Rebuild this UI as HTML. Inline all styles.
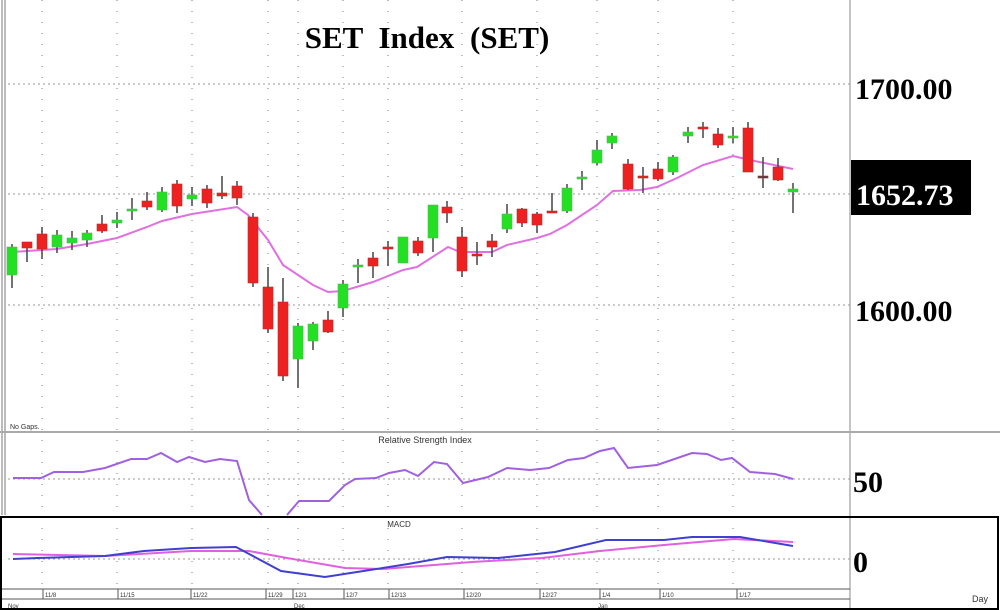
<!DOCTYPE html>
<html><head><meta charset="utf-8"><style>
html,body{margin:0;padding:0;background:#fff;width:1000px;height:610px;overflow:hidden}
svg{display:block}
</style></head><body>
<svg id="s" width="1000" height="610" xmlns="http://www.w3.org/2000/svg" font-family="Liberation Sans, sans-serif">
<rect width="1000" height="610" fill="#fff"/>
<line x1="2" y1="0" x2="2" y2="515" stroke="#777" stroke-width="1"/>
<line x1="5" y1="0" x2="5" y2="515" stroke="#777" stroke-width="1"/>
<line x1="850" y1="0" x2="850" y2="610" stroke="#888" stroke-width="1"/>
<g stroke="#999" stroke-dasharray="2,3" stroke-width="1">
<line x1="8" y1="84" x2="850" y2="84"/>
<line x1="8" y1="194" x2="850" y2="194"/>
<line x1="8" y1="305" x2="850" y2="305"/>
<line x1="8" y1="479" x2="850" y2="479"/>
<line x1="8" y1="559" x2="850" y2="559"/>
</g>
<g id="vgrid" stroke="#aaa" stroke-dasharray="1,10" stroke-width="1.5"></g>
<text x="427" y="48" text-anchor="middle" font-family="Liberation Serif, serif" font-weight="bold" font-size="31" word-spacing="8">SET Index (SET)</text>
<text x="855" y="99" font-family="Liberation Serif, serif" font-weight="bold" font-size="30">1700.00</text>
<text x="855" y="321" font-family="Liberation Serif, serif" font-weight="bold" font-size="30">1600.00</text>
<rect x="851" y="160" width="120" height="55" fill="#000"/>
<text x="856" y="205" fill="#fff" font-family="Liberation Serif, serif" font-weight="bold" font-size="30">1652.73</text>
<text x="10" y="429" font-size="7" fill="#333">No Gaps.</text>
<line x1="0" y1="432" x2="1000" y2="432" stroke="#aaa" stroke-width="2"/>
<text x="425" y="443" text-anchor="middle" font-size="9" fill="#333">Relative  Strength  Index</text>
<text x="853" y="492" font-family="Liberation Serif, serif" font-weight="bold" font-size="30">50</text>
<rect x="1" y="517" width="997" height="92" fill="none" stroke="#000" stroke-width="2"/>
<text x="399" y="527" text-anchor="middle" font-size="8" fill="#333">MACD</text>
<text x="853" y="572" font-family="Liberation Serif, serif" font-weight="bold" font-size="30">0</text>
<line x1="2" y1="589" x2="850" y2="589" stroke="#555" stroke-width="1"/>
<line x1="2" y1="599" x2="850" y2="599" stroke="#555" stroke-width="1"/>
<text x="972" y="602" font-size="9" fill="#333">Day</text>
<text x="8" y="608" font-size="6" fill="#333">Nov</text>
<text x="294" y="608" font-size="6" fill="#333">Dec</text>
<text x="598" y="608" font-size="6" fill="#333">Jan</text>
<g id="dates" font-size="6" fill="#333"></g>
<polyline fill="none" stroke="#e070e0" stroke-width="2" points="12,252 27,251 57,249 87,244 117,238 147,227 162,221 192,214 237,207 248,215 268,240 283,265 313,285 328,292 343,291 373,282 403,270 417,267 448,247 460,252 492,252 507,245 537,238 550,234 567,225 597,205 613,191 640,190 657,187 677,178 703,165 733,156 750,160 793,169"/>
<g id="candles"></g>
<polyline fill="none" stroke="#a060e0" stroke-width="2" points="13,478 41,478 54,472 83,472 105,468 131,459 147,459 161,453 177,462 189,457 205,462 220,459 237,461 249,500 262,515"/>
<polyline fill="none" stroke="#a060e0" stroke-width="2" points="287,515 299,501 329,501 345,485 355,479 376,478 389,473 405,470 418,476 434,462 447,464 463,483 488,477 507,468 530,470 549,468 568,460 584,458 600,451 614,448 628,468 657,465 692,453 707,454 721,460 732,458 750,472 775,474 793,479"/>
<polyline fill="none" stroke="#e060e0" stroke-width="2" points="13,554 105,556 191,551 249,551 287,558 345,568 383,569 472,562 542,558 600,551 664,545 734,539 793,542"/>
<polyline fill="none" stroke="#4040d0" stroke-width="2" points="13,559 38,558 105,556 144,551 191,548 236,547 281,571 325,577 357,572 408,564 447,557 498,558 555,552 606,540 664,540 692,537 740,537 793,546"/>
</svg>
<script>
var NS="http://www.w3.org/2000/svg";
function el(n,a,p){var e=document.createElementNS(NS,n);for(var k in a)e.setAttribute(k,a[k]);p.appendChild(e);return e;}
var C=[[12,247,275,244,288,'g'],[27,242,248,242,262,'r'],[42,234,249,227,259,'r'],[57,235,247,230,253,'g'],[72,238,243,231,250,'g'],[87,233,240,230,247,'g'],[102,224,231,215,233,'r'],[117,220,223,212,228,'g'],[132,209,211,198,220,'g'],[147,201,207,192,210,'r'],[162,192,210,187,212,'g'],[177,184,206,180,213,'r'],[192,195,199,187,206,'g'],[207,189,203,185,208,'r'],[222,193,196,176,199,'r'],[237,186,198,181,205,'r'],[253,217,283,213,287,'r'],[268,287,329,267,333,'r'],[283,302,376,278,381,'r'],[298,326,359,323,388,'g'],[313,324,341,322,350,'g'],[328,320,332,311,333,'r'],[343,284,308,280,317,'g'],[358,265,267,259,283,'g'],[373,258,266,252,278,'r'],[388,247,249,241,266,'r'],[403,237,263,237,263,'g'],[418,241,253,237,256,'r'],[433,205,238,205,252,'g'],[447,207,213,201,223,'r'],[462,237,271,227,277,'r'],[477,254,256,242,265,'r'],[492,241,247,234,257,'r'],[507,214,229,204,233,'g'],[522,209,223,208,227,'r'],[537,214,225,212,233,'r'],[552,211,213,193,213,'r'],[567,188,211,184,213,'g'],[582,177,179,171,190,'g'],[597,150,163,140,165,'g'],[612,136,143,133,149,'g'],[628,164,189,159,190,'r'],[643,176,178,167,193,'r'],[658,169,179,162,181,'r'],[673,157,172,155,175,'g'],[688,132,136,127,143,'g'],[703,127,129,122,138,'r'],[718,134,145,128,148,'r'],[733,136,138,127,143,'g'],[748,128,172,122,172,'r'],[763,176,177,157,188,'k'],[778,167,180,158,181,'r'],[793,189,192,183,213,'g']];
var g=document.getElementById('candles');
C.forEach(function(c){
 el('line',{x1:c[0],x2:c[0],y1:c[3],y2:c[4],stroke:'#444','stroke-width':1.5},g);
 var col=c[5]=='g'?'#22e022':(c[5]=='r'?'#ee2020':'#444');
 var h=Math.max(2,c[2]-c[1]);
 el('rect',{x:c[0]-5,y:c[1],width:10,height:h,fill:col,stroke:c[5]=='g'?'#60b060':'#b03030','stroke-width':0.6},g);
});
var vx=[42,117,192,268,298,343,388,462,537,597,658,733];
var vg=document.getElementById('vgrid');
vx.forEach(function(x){el('line',{x1:x,x2:x,y1:0,y2:589},vg);});
var dg=document.getElementById('dates');
var dl=[[43,'11/8'],[118,'11/15'],[191,'11/22'],[266,'11/29'],[293,'12/1'],[344,'12/7'],[389,'12/13'],[464,'12/20'],[540,'12/27'],[600,'1/4'],[660,'1/10'],[737,'1/17']];
dl.forEach(function(d){el('line',{x1:d[0],x2:d[0],y1:589,y2:599,stroke:'#555'},dg);var t=el('text',{x:d[0]+2,y:597},dg);t.textContent=d[1];});
</script>
</body></html>
